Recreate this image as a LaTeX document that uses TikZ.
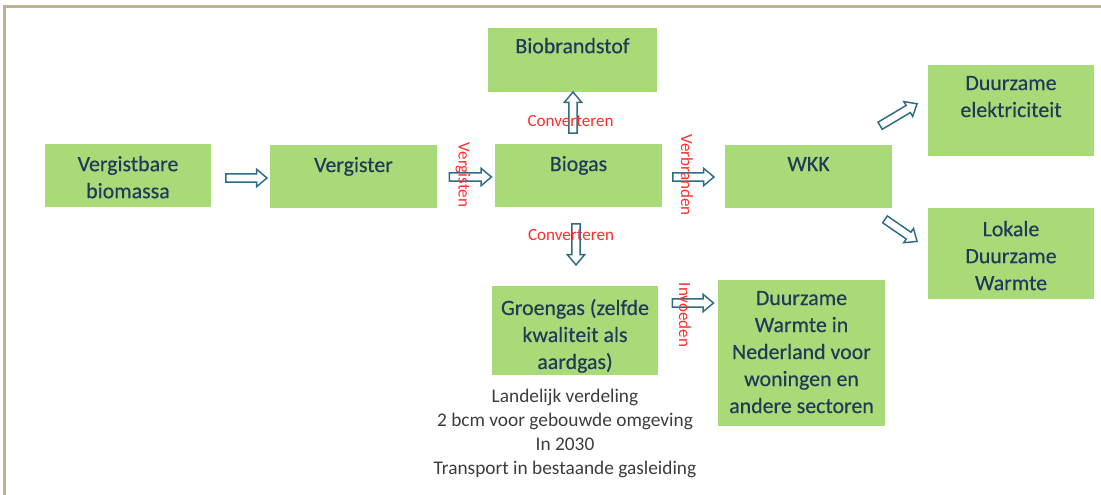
\documentclass[tikz,border=0pt]{standalone}
\usepackage{fontspec}
\setmainfont{Carlito}
\newfontfamily\boxfont[FakeBold=0.35]{Carlito}
\usetikzlibrary{shapes.arrows}

\newdimen\pxu \pxu=0.75pt

\definecolor{boxgreen}{RGB}{169,218,120}
\definecolor{boxtextcol}{RGB}{33,58,88}
\definecolor{arrowteal}{RGB}{45,108,132}
\definecolor{labelred}{RGB}{255,45,45}
\definecolor{notegray}{RGB}{60,60,66}
\definecolor{framecol}{RGB}{192,178,145}

\tikzset{
  box/.style={rectangle, fill=boxgreen, inner sep=0pt, minimum width=166\pxu},
  boxtext/.style={text=boxtextcol, align=center, inner sep=0pt, anchor=north,
    font=\boxfont\fontsize{16.4pt}{20.25pt}\selectfont},
  blockarrow/.style={single arrow, draw=arrowteal, fill=white, line width=1.1pt,
    inner xsep=0pt, inner ysep=3.4\pxu, single arrow head extend=4.5\pxu,
    single arrow tip angle=80, minimum height=#1},
  blockarrow/.default=41\pxu,
  redlabel/.style={text=labelred, inner sep=0pt, font=\fontsize{12.8pt}{15pt}\selectfont}
}

\begin{document}
\begin{tikzpicture}[x=0.75pt, y=-0.75pt]
\useasboundingbox (0,0) rectangle (1101,495);
\draw [framecol, line width=1.6pt] (4.5,495) -- (4.5,6.5) -- (1101,6.5);

% boxes
\node [box, minimum height=63\pxu, label={[boxtext, yshift=-12\pxu]90:{Vergistbare\\biomassa}}] (biomassa) at (128,175.5) {};
\node [box, minimum width=167\pxu, minimum height=63\pxu, label={[boxtext, yshift=-12\pxu]90:{Vergister}}] (vergister) at (353.5,176.5) {};
\node [box, minimum width=167\pxu, minimum height=63\pxu, label={[boxtext, yshift=-12\pxu]90:{Biogas}}] (biogas) at (578.5,175.5) {};
\node [box, minimum width=169\pxu, minimum height=64\pxu, label={[boxtext, yshift=-10\pxu]90:{Biobrandstof}}] (biobrandstof) at (572.5,60) {};
\node [box, minimum width=167\pxu, minimum height=63\pxu, label={[boxtext, yshift=-12\pxu]90:{WKK}}] (wkk) at (808.5,176.5) {};
\node [box, minimum height=91\pxu, label={[boxtext, yshift=-11\pxu]90:{Duurzame\\elektriciteit}}] (elektriciteit) at (1011,110.5) {};
\node [box, minimum height=91\pxu, label={[boxtext, yshift=-13\pxu]90:{Lokale\\Duurzame\\Warmte}}] (lokaal) at (1011,253.5) {};
\node [box, minimum height=89\pxu, label={[boxtext, yshift=-13\pxu]90:{Groengas (zelfde\\kwaliteit als\\aardgas)}}] (groengas) at (575,330.5) {};
\node [box, minimum width=167\pxu, minimum height=146\pxu, label={[boxtext, yshift=-11\pxu]90:{Duurzame\\Warmte in\\Nederland voor\\woningen en\\andere sectoren}}] (warmteNL) at (801.5,353) {};

% block arrows
\node [blockarrow] (p-biomassa) at (244,178) {};
\node [blockarrow=42\pxu] (p-vergister) at (468,177) {};
\node [blockarrow] (p-biogas) at (691,177) {};
\node [blockarrow, rotate=90] (p-biobrandstof) at (573,115) {};
\node [blockarrow, rotate=-90] (p-groengas) at (576,242) {};
\node [blockarrow] (p-invoeden) at (690.5,303) {};
\node [blockarrow=43\pxu, rotate=30.7] (p-elektriciteit) at (896.5,116) {};
\node [blockarrow=39\pxu, rotate=-34.5] (p-lokaal) at (899,229) {};

% process labels
\node [redlabel] (l-conv-boven) at (570.5,121) {Converteren};
\node [redlabel] (l-conv-onder) at (571,235) {Converteren};
\node [redlabel, rotate=-90] (l-vergisten) at (463,175) {Vergisten};
\node [redlabel, rotate=-90] (l-verbranden) at (687,175) {Verbranden};
\node [redlabel, rotate=-90] (l-invoeden) at (685,315) {Invoeden};

% toelichting groengas
\node [text=notegray, align=center, inner sep=0pt, anchor=north,
  font=\fontsize{14.5pt}{18pt}\selectfont] (toelichting) at (565,389)
  {Landelijk verdeling\\2 bcm voor gebouwde omgeving\\In 2030\\Transport in bestaande gasleiding};
\end{tikzpicture}
\end{document}
